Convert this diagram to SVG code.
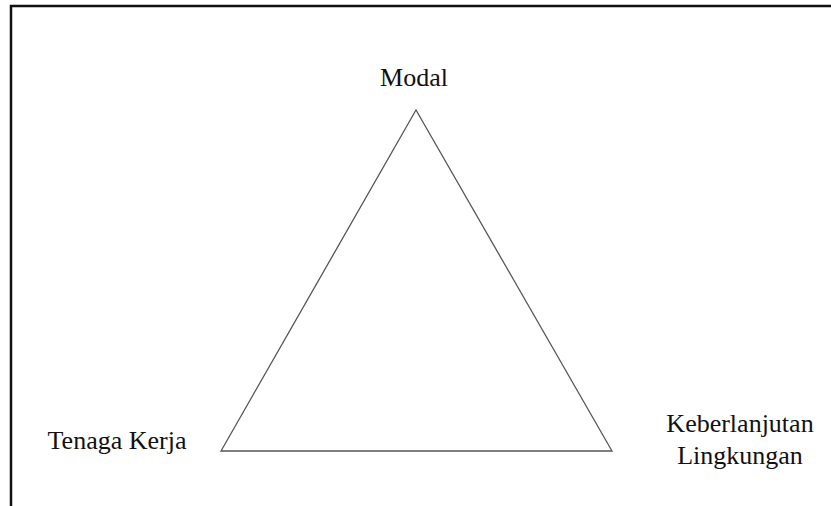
<svg xmlns="http://www.w3.org/2000/svg" width="831" height="506" viewBox="0 0 831 506">
<style>
.lbl{font-family:"Liberation Serif","Times New Roman",serif;font-size:26px;fill:#111;text-anchor:middle}
.frame{stroke:#111;stroke-width:2.5;fill:none}
.tri{stroke:#555;stroke-width:1.3;fill:none}
</style>
<rect width="831" height="506" fill="#fff"/>
<g id="frame">
<path class="frame" d="M11,506 V6 H831"/>
</g>
<g id="connectors">
<polygon class="tri" points="416,110 221,451 612,451"/>
</g>
<g id="node-modal"><text class="lbl" x="414" y="86">Modal</text></g>
<g id="node-tenaga"><text class="lbl" x="117" y="449">Tenaga Kerja</text></g>
<g id="node-lingkungan"><text class="lbl" x="740" y="432">Keberlanjutan</text><text class="lbl" x="740" y="464">Lingkungan</text></g>
</svg>
